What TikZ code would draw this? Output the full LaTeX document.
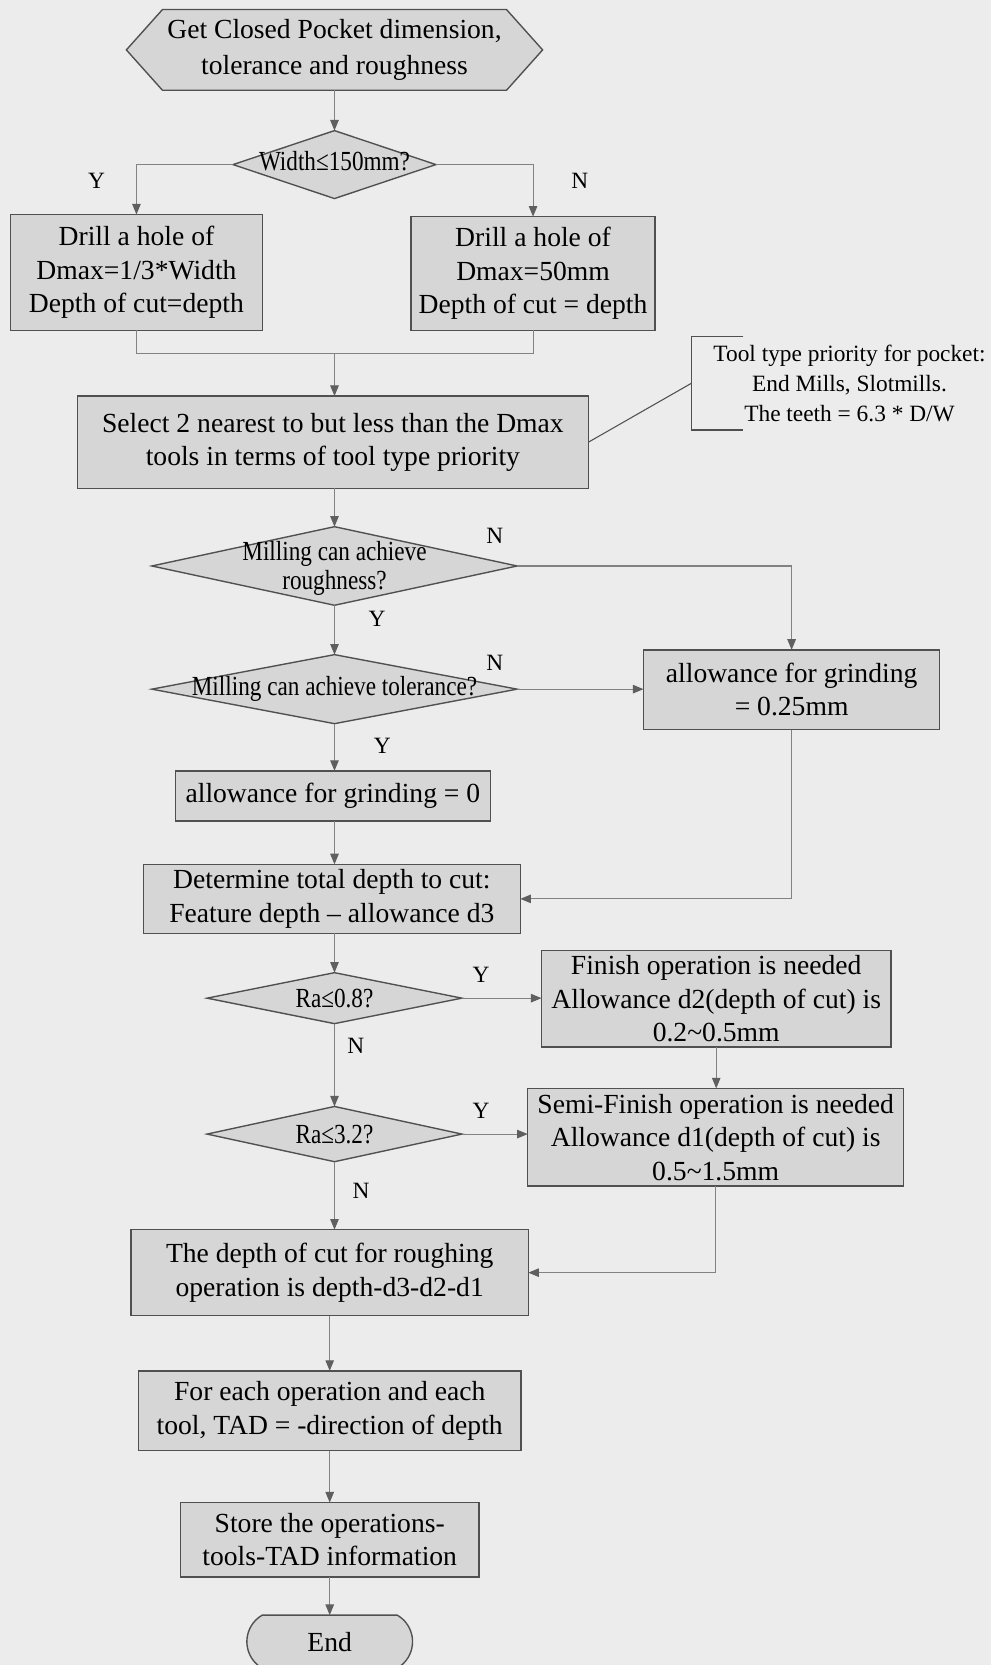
\documentclass[tikz,border=0pt]{standalone}
\usepackage{fontspec}
\setmainfont{Liberation Serif}
\newfontfamily\condserif[FakeStretch=0.84]{Liberation Serif}
\usetikzlibrary{shapes.geometric,shapes.misc,arrows.meta}

\definecolor{pagebg}{RGB}{236,236,236}
\definecolor{boxfill}{RGB}{214,214,214}
\definecolor{edgecol}{RGB}{80,80,80}
\definecolor{wirecol}{RGB}{130,130,130}
\definecolor{tipcol}{RGB}{95,95,95}

\begin{document}
\begin{tikzpicture}[x=1pt,y=-1pt,
  every node/.style={inner sep=0pt, outer sep=0pt},
  box/.style={draw=edgecol, line width=1.3pt, fill=boxfill, align=center,
              font=\fontsize{26}{31.5}\selectfont},
  dia/.style={diamond, draw=edgecol, line width=1.3pt, fill=boxfill},
  dtext/.style={align=center, font=\condserif\fontsize{26}{27}\selectfont},
  yn/.style={font=\fontsize{22}{22}\selectfont},
  wire/.style={draw=wirecol, line width=1pt},
  flow/.style={wire, -{Triangle[length=10pt,width=8pt,color=tipcol]}},
  notetext/.style={align=center, font=\fontsize{22}{28}\selectfont},
]
% page
\fill[pagebg] (0,0) rectangle (933,1568);
\useasboundingbox (0,0) rectangle (933,1568);

% start: hexagonal input block
\filldraw[fill=boxfill, draw=edgecol, line width=1.3pt]
  (119,47) -- (153,9) -- (477,9) -- (511,47) -- (477,85) -- (153,85) -- cycle;
\node[align=center, minimum width=392pt, minimum height=76pt,
      font=\fontsize{26}{33}\selectfont] (start) at (315,47)
  {Get Closed Pocket dimension,\\tolerance and roughness};

% width test
\node[dia, minimum width=191pt, minimum height=64pt] (d1) at (315,155) {};
\node[dtext] (d1t) at (315,152) {Width≤150mm?};
\node[yn] (y1) at (91,170) {Y};
\node[yn] (n1) at (546,170) {N};

\node[box, minimum width=237pt, minimum height=109pt] (bl) at (128.5,256.5)
  {Drill a hole of\\Dmax=1/3*Width\\Depth of cut=depth};
\node[box, minimum width=230pt, minimum height=107pt] (br) at (502,257.5)
  {Drill a hole of\\Dmax=50mm\\Depth of cut = depth};

\coordinate (merge) at (315,333);

\node[box, minimum width=481pt, minimum height=87pt] (sel) at (313.5,416.5)
  {Select 2 nearest to but less than the Dmax\\tools in terms of tool type priority};

% annotation
\node[notetext, minimum width=298pt, minimum height=88pt] (note) at (800,361)
  {Tool type priority for pocket:\\End Mills, Slotmills.\\The teeth = 6.3 * D/W};
\draw[draw=edgecol, line width=1.1pt]
  ([xshift=49pt]note.north west) -- (note.north west) -- (note.south west)
  -- ([xshift=49pt]note.south west);
\draw[draw=edgecol, line width=1pt] (sel.east) -- (note.west);

% roughness / tolerance tests
\node[dia, minimum width=344pt, minimum height=74pt] (d2) at (315,533) {};
\node[dtext] (d2t) at (315,535) {Milling can achieve\\roughness?};
\node[yn] (n2) at (466,505) {N};
\node[yn] (y2) at (355,583) {Y};

\node[dia, minimum width=344pt, minimum height=65pt] (d3) at (315,649) {};
\node[dtext] (d3t) at (315,649) {Milling can achieve tolerance?};
\node[yn] (n3) at (466,624) {N};
\node[yn] (y3) at (360,702) {Y};

\node[box, minimum width=279pt, minimum height=75pt] (g25) at (745.5,649.5)
  {allowance for grinding\\= 0.25mm};
\node[box, minimum width=297pt, minimum height=47pt] (g0) at (313.5,749.5)
  {allowance for grinding = 0};
\node[box, minimum width=355pt, minimum height=65pt] (det) at (312.5,846.5)
  {Determine total depth to cut:\\Feature depth -- allowance d3};

% surface finish tests
\node[dia, minimum width=240pt, minimum height=48pt] (ra8) at (315,940) {};
\node[dtext] (ra8t) at (315,940) {Ra≤0.8?};
\node[yn] (y4) at (453,918) {Y};
\node[yn] (n4) at (335,985) {N};

\node[box, minimum width=329pt, minimum height=91pt] (fin) at (674.5,940.5)
  {Finish operation is needed\\Allowance d2(depth of cut) is\\0.2\textasciitilde 0.5mm};

\node[dia, minimum width=240pt, minimum height=52pt] (ra32) at (315,1068) {};
\node[dtext] (ra32t) at (315,1068) {Ra≤3.2?};
\node[yn] (y5) at (453,1046) {Y};
\node[yn] (n5) at (340,1121) {N};

\node[box, minimum width=354pt, minimum height=92pt] (semi) at (674,1071)
  {Semi-Finish operation is needed\\Allowance d1(depth of cut) is\\0.5\textasciitilde 1.5mm};

\node[box, minimum width=374pt, minimum height=81pt] (rough) at (310.5,1198.5)
  {The depth of cut for roughing\\operation is depth-d3-d2-d1};
\node[box, minimum width=360pt, minimum height=75pt] (tad) at (310.5,1328.5)
  {For each operation and each\\tool, TAD = -direction of depth};
\node[box, minimum width=281pt, minimum height=70pt] (store) at (310.5,1450)
  {Store the operations-\\tools-TAD information};
\node[draw=edgecol, line width=1.3pt, fill=boxfill, rounded rectangle,
      rounded rectangle arc length=120, minimum width=156pt, minimum height=50pt,
      font=\fontsize{26}{26}\selectfont] (end) at (310.5,1546) {End};

% connectors
\draw[flow] (start) -- (d1);
\draw[flow] (d1.west) -| (bl.north);
\draw[flow] (d1.east) -| (br.north);
\draw[wire] (bl.south) |- (merge) -| (br.south);
\draw[flow] (merge) -- (merge |- sel.north);
\draw[flow] (d2.north |- sel.south) -- (d2.north);
\draw[flow] (d2.east) -| (g25.north);
\draw[flow] (d2.south) -- (d3.north);
\draw[flow] (d3.east) -- (d3.east -| g25.west);
\draw[flow] (d3.south) -- (d3.south |- g0.north);
\draw[flow] (d3.south |- g0.south) -- (d3.south |- det.north);
\draw[flow] (g25.south) |- (det.east);
\draw[flow] (d3.south |- det.south) -- (ra8.north);
\draw[flow] (ra8.east) -- (ra8.east -| fin.west);
\draw[flow] (ra8.south) -- (ra32.north);
\draw[flow] (fin.south) -- (fin.south |- semi.north);
\draw[flow] (ra32.east) -- (ra32.east -| semi.west);
\draw[flow] (ra32.south) -- (ra32.south |- rough.north);
\draw[flow] (semi.south) |- (rough.east);
\draw[flow] (rough.south) -- (tad.north);
\draw[flow] (tad.south) -- (store.north);
\draw[flow] (store.south) -- (end.north);
\end{tikzpicture}
\end{document}
